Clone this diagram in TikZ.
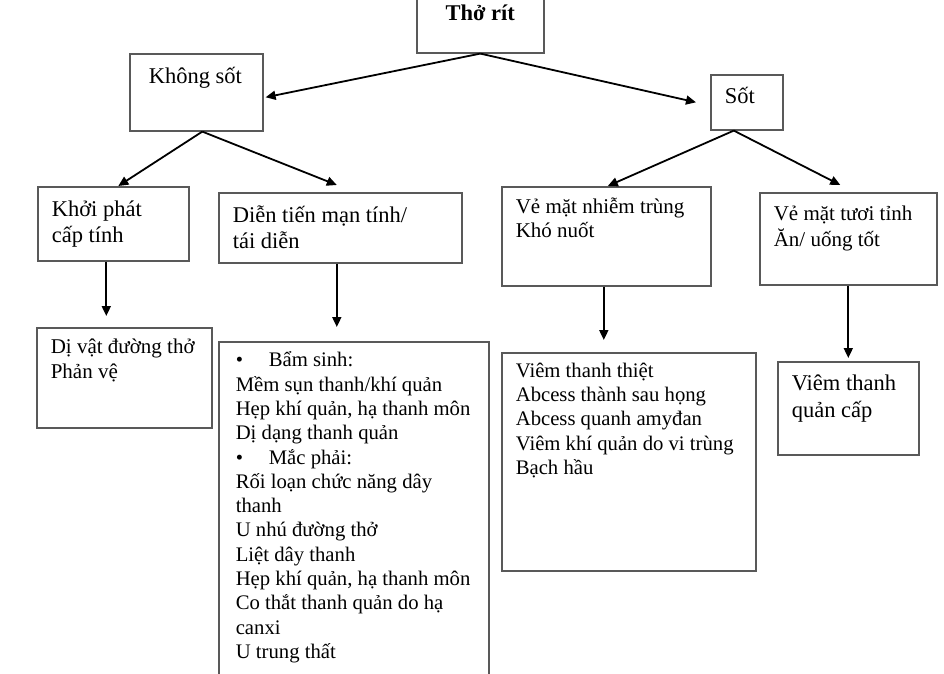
\documentclass[tikz,border=0pt]{standalone}
\usepackage{fontspec}
\setmainfont{Liberation Serif}
\usetikzlibrary{arrows.meta}
\newcommand{\boxtext}[5][14pt]{\parbox[c][#3][t]{#2}{\raggedright\leftskip=#1\vspace*{#4}\leavevmode\strut #5}}

\tikzset{
  box/.style={draw=black!65, line width=1.6pt, inner sep=0pt, anchor=north west},
  arr/.style={-{Triangle[length=10pt,width=9pt]}, line width=1.8pt},
  txtA/.style={font=\fontsize{22.5}{26}\selectfont},
  txtB/.style={font=\fontsize{21}{24}\selectfont},
  txtC/.style={font=\fontsize{20.7}{24.3}\selectfont}
}

\begin{document}
\begin{tikzpicture}[x=1pt, y=-1pt]
            \useasboundingbox (0,0) rectangle (944,673);

            % Top
            \node[box, font=\fontsize{22.5}{26}\selectfont] (top) at (416,-5) {\parbox[c][57pt][t]{127pt}{\centering\vspace*{6.5pt}\leavevmode\strut\textbf{Thở rít}}};

            % Fever or not
            \node[box, txtA] (khong) at (129,53) {\boxtext[19pt]{133pt}{77pt}{11pt}{Không sốt}};
            \node[box, txtA] (sot) at (710,74) {\boxtext{72pt}{55pt}{10pt}{Sốt}};

            % No fever branch
            \node[box, txtA] (khoi) at (37,186) {\boxtext{151pt}{74pt}{11pt}{Khởi phát\\cấp tính}};
            \node[box, txtA] (dien) at (218,192) {\boxtext{243pt}{70pt}{11.5pt}{Diễn tiến mạn tính/\\tái diễn}};
            \node[box, font=\fontsize{21}{25}\selectfont] (divat) at (36,327) {\boxtext{175pt}{100pt}{8.5pt}{Dị vật đường thở\\Phản vệ}};
            \node[box, txtC] (list) at (218,341) {\boxtext[17pt]{270pt}{349pt}{8pt}{%
                \makebox[33pt][l]{\textbullet}Bẩm sinh:\\
                Mềm sụn thanh/khí quản\\
                Hẹp khí quản, hạ thanh môn\\
                Dị dạng thanh quản\\
                \makebox[33pt][l]{\textbullet}Mắc phải:\\
                Rối loạn chức năng dây\\
                thanh\\
                U nhú đường thở\\
                Liệt dây thanh\\
                Hẹp khí quản, hạ thanh môn\\
                Co thắt thanh quản do hạ\\
                canxi\\
                U trung thất}};

            % Fever branch
            \node[box, txtB] (nhiem) at (501,186) {\boxtext{209pt}{99pt}{10pt}{Vẻ mặt nhiễm trùng\\Khó nuốt}};
            \node[box, txtB] (tuoi) at (759,192) {\boxtext{177pt}{92pt}{11pt}{Vẻ mặt tươi tỉnh\\Ăn/ uống tốt}};
            \node[box, txtC] (viem) at (501,352) {\boxtext{254pt}{218pt}{7.5pt}{Viêm thanh thiệt\\Abcess thành sau họng\\Abcess quanh amyđan\\Viêm khí quản do vi trùng\\Bạch hầu}};
            \node[box, font=\fontsize{22.5}{26.5}\selectfont] (vtq) at (777,361) {\boxtext{141pt}{93pt}{10.5pt}{Viêm thanh\\quản cấp}};

            % Arrows
            \draw[arr] (top.south) -- ([xshift=2pt,yshift=-5pt]khong.east);
            \draw[arr] (top.south) -- ([xshift=-14pt]sot.west);
            \draw[arr] ([xshift=6pt]khong.south) -- ([xshift=5pt]khoi.north);
            \draw[arr] ([xshift=6pt]khong.south) -- ([xshift=-3.5pt,yshift=7pt]dien.north);
            \draw[arr] ([xshift=-13pt]sot.south) -- ([xshift=1.5pt]nhiem.north);
            \draw[arr] ([xshift=-13pt]sot.south) -- ([xshift=-8pt,yshift=7pt]tuoi.north);
            \draw[arr] ([xshift=-7pt]khoi.south) -- ([xshift=-18pt,yshift=11pt]divat.north);
            \draw[arr] ([xshift=-3.5pt]dien.south) -- ([xshift=-17pt,yshift=14pt]list.north);
            \draw[arr] ([xshift=-2.5pt]nhiem.south) -- ([xshift=-25pt,yshift=12pt]viem.north);
            \draw[arr] (tuoi.south) -- ([yshift=3pt]vtq.north);
\end{tikzpicture}
\end{document}
